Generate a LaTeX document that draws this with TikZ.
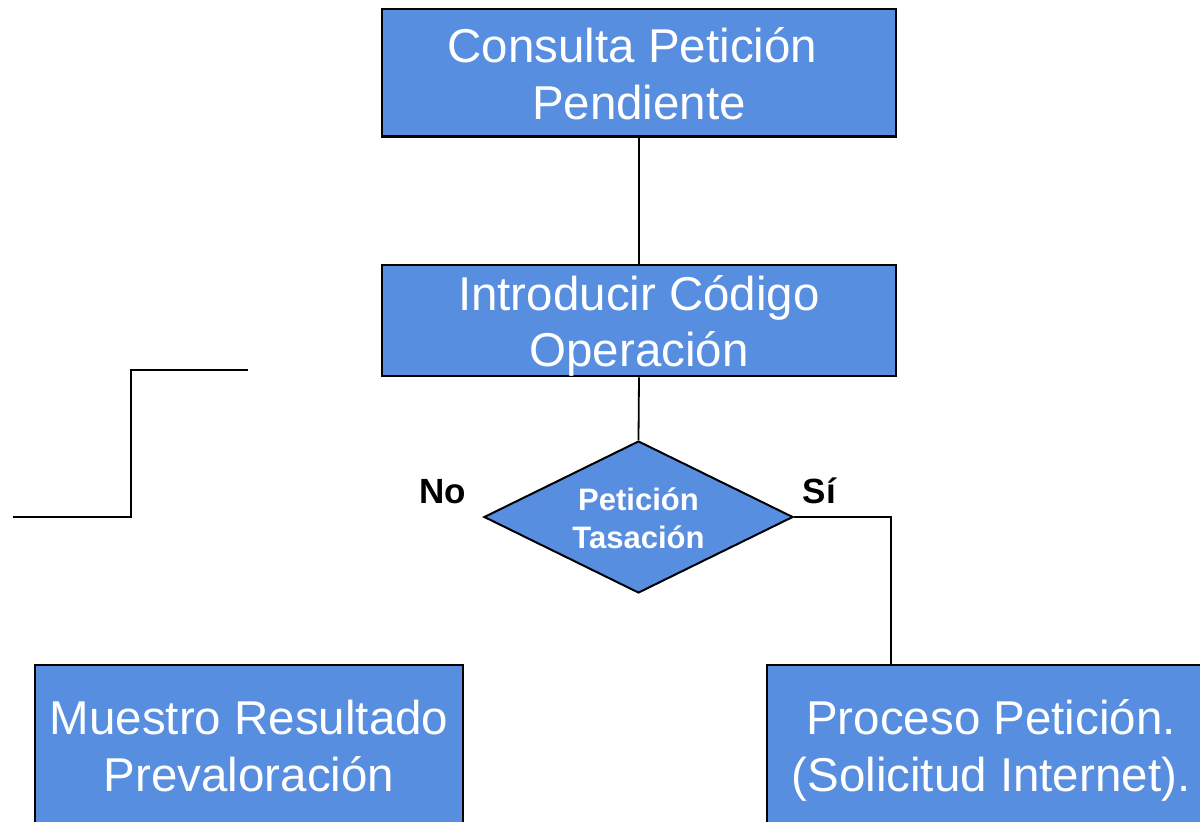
\documentclass[tikz,border=0pt]{standalone}
\usepackage{fontspec}
\setmainfont{Liberation Sans}
\usetikzlibrary{shapes.geometric}
\definecolor{boxblue}{RGB}{88,142,224}
\newcommand\twolines[3]{\vtop{\baselineskip=#1\lineskiplimit=-100pt\relax\hbox to 0pt{\hss#2\hss}\hbox to 0pt{\hss#3\hss}}}
\begin{document}
\begin{tikzpicture}[x=1pt,y=-1pt,
  box/.style={draw=black, line width=2.5pt, fill=boxblue, rectangle, inner sep=0pt},
  decision/.style={draw=black, line width=2pt, fill=boxblue, diamond, inner sep=0pt},
  bigtext/.style={text=white, font=\fontsize{47.5}{56.5}\selectfont, anchor=base, inner sep=0pt},
  dtext/.style={text=white, font=\fontsize{31}{37}\selectfont\bfseries, anchor=base, inner sep=0pt},
  lab/.style={text=black, font=\fontsize{35}{42}\selectfont\bfseries, anchor=base, inner sep=0pt},
  conn/.style={draw=black, line width=1.8pt}]
\useasboundingbox (0,0) rectangle (1200,822);
\clip (0,0) rectangle (1200,822);
% boxes
\node[box, minimum width=514pt, minimum height=127.5pt] (c1) at (639,72.75) {};
\node[box, minimum width=514pt, minimum height=111pt] (c2) at (639,320.5) {};
\node[decision, minimum width=309pt, minimum height=152pt] (d) at (638.5,517) {};
\node[box, minimum width=428pt, minimum height=215pt] (b3) at (249,772.5) {};
\node[box, minimum width=448pt, minimum height=215pt] (b4) at (991,772.5) {};
% connectors
\draw[conn] (c1.south) -- (c2.north);
\draw[conn] (c2.south) -- (d.north);
\draw[conn] (d.east) -| ([xshift=125pt]b4.north west);
\coordinate (s1) at (13,517);
\coordinate (s2) at (248,370);
\draw[conn] (s1) -- ++(118,0) |- (s2);
% texts
\node[bigtext] (c1t) at (639,62.5) {\twolines{56.5pt}{Consulta Petición\ }{Pendiente}};
\node[bigtext] (c2t) at (639,310) {\twolines{56.7pt}{Introducir Código}{Operación}};
\node[bigtext] (b3t) at (249,734) {\twolines{57.7pt}{Muestro Resultado}{Prevaloración}};
\node[bigtext] (b4t) at (991,734) {\twolines{57.7pt}{Proceso Petición.}{(Solicitud Internet).}};
\node[dtext] (dt) at (638.5,510) {\twolines{38pt}{Petición}{Tasación}};
\node[lab] (no) at (443,503) {No};
\node[lab] (si) at (819.5,503) {Sí};
\end{tikzpicture}
\end{document}
